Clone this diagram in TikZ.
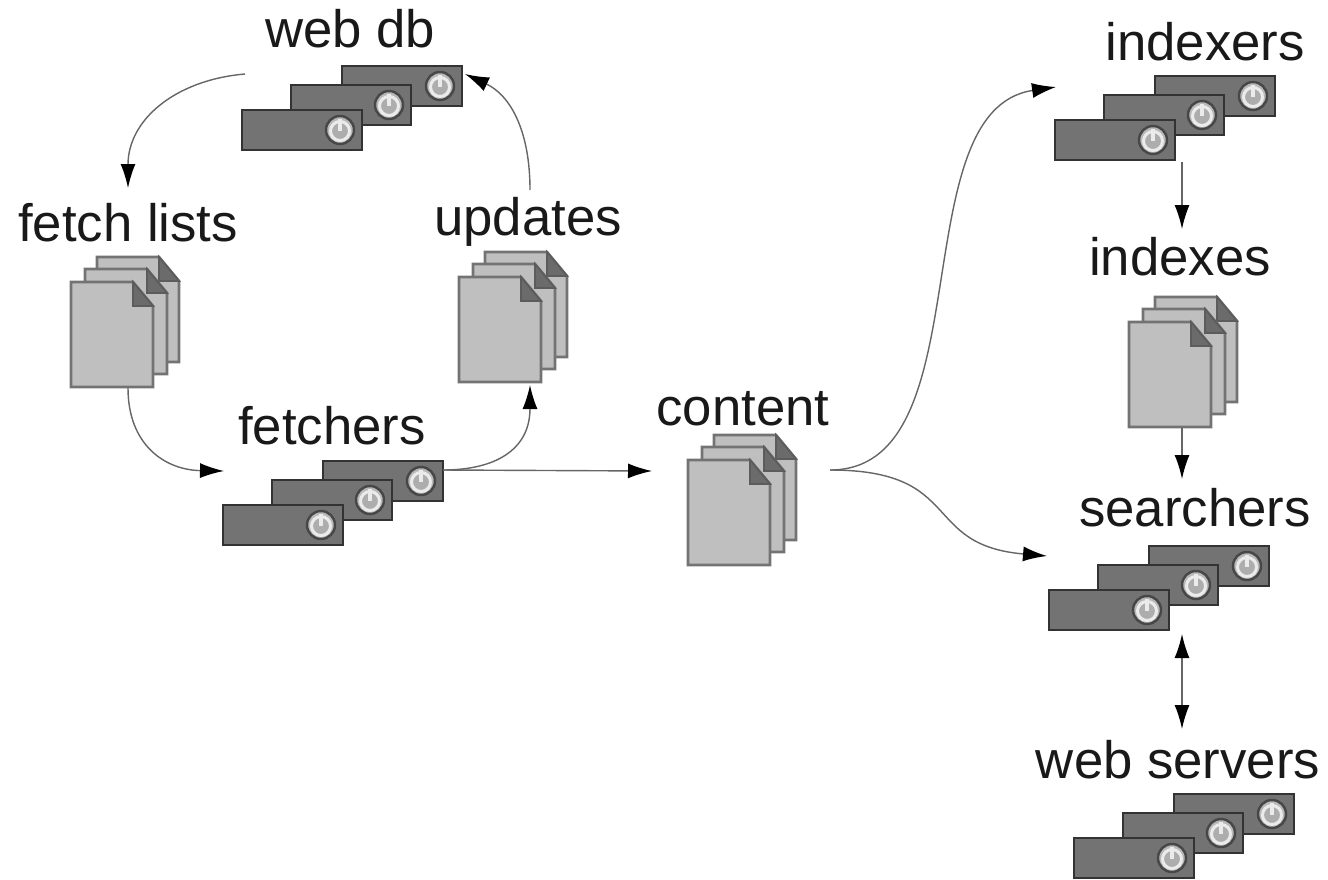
\documentclass[tikz,border=0pt]{standalone}
\usepackage{fontspec}
\setmainfont{Liberation Sans}
\usetikzlibrary{arrows.meta}
\definecolor{rackgray}{gray}{0.45}
\definecolor{rackedge}{gray}{0.2}
\definecolor{pagegray}{gray}{0.75}
\definecolor{pageedge}{gray}{0.45}
\definecolor{foldgray}{gray}{0.42}
\definecolor{wiregray}{gray}{0.4}
\tikzset{
  label/.style={font=\fontsize{30}{30}\selectfont, text=black!90, anchor=base, inner sep=0pt},
  rack/.style={draw=rackedge, line width=1.6pt, fill=rackgray},
  knob/.style={draw=rackedge!90, line width=1.4pt, fill=white!72!black, circle, minimum size=0.56cm, inner sep=0pt},
  knobring/.style={draw=white!92!black, line width=1.7pt, fill=white!68!black, circle, minimum size=0.38cm, inner sep=0pt},
  wire/.style={draw=wiregray, line width=0.8pt, -{Latex[length=0.48cm, width=0.3cm, color=black]}},
  page/.style={draw=pageedge, line width=1.5pt, fill=pagegray},
  fold/.style={draw=rackedge!80, line width=1pt, fill=foldgray},
}
% one rack unit, the origin is the upper left corner of the box
\newcommand{\rackunit}[2]{
  \draw[rack] (#1,#2) rectangle ++(120,40);
  \node[knob] at (#1+98,#2+20) {};
  \node[knobring] at (#1+98,#2+21) {};
  \draw[white!92!black, line width=1.8pt] (#1+98,#2+9) -- (#1+98,#2+21);
}
% three rack units in a row
\newcommand{\rackstack}[2]{
  \rackunit{#1+100}{#2-44}
  \rackunit{#1+49}{#2-25}
  \rackunit{#1}{#2}
}
% one page with its corner folded
\newcommand{\pageunit}[2]{
  \draw[page] (#1,#2) -- ++(62,0) -- ++(20,24) -- ++(0,81) -- ++(-82,0) -- cycle;
  \draw[fold] (#1+62,#2) -- ++(20,24) -- ++(-20,0) -- cycle;
}
\newcommand{\pagestack}[2]{
  \pageunit{#1+26}{#2-25}
  \pageunit{#1+14}{#2-13}
  \pageunit{#1}{#2}
}
\begin{document}
\begin{tikzpicture}[x=0.02cm, y=-0.02cm]
\useasboundingbox (0,0) rectangle (1328,879);
\rackstack{242}{110}
\rackstack{223}{505}
\rackstack{1055}{120}
\rackstack{1049}{590}
\rackstack{1074}{838}
\pagestack{71}{282}
\pagestack{459}{277}
\pagestack{688}{460}
\pagestack{1129}{322}
\node[label] (webdb) at (350,47) {web db};
\node[label] (fetchlists) at (128,241) {fetch lists};
\node[label] (updates) at (528,235) {updates};
\node[label] (fetchers) at (332,444) {fetchers};
\node[label] (content) at (743,425) {content};
\node[label] (indexers) at (1205,60) {indexers};
\node[label] (indexes) at (1180,275) {indexes};
\node[label] (searchers) at (1195,526) {searchers};
\node[label] (webservers) at (1178,778) {web servers};
\coordinate (dbout) at (245,74);
\coordinate (dbin) at (465,74);
\coordinate (listsin) at (128,188);
\coordinate (listsout) at (128,388);
\coordinate (updatesin) at (530,385);
\coordinate (updatesout) at (530,190);
\coordinate (fetchin) at (224,471);
\coordinate (fetchout) at (443,470);
\coordinate (contentin) at (652,471);
\coordinate (contentout) at (830,470);
\coordinate (indexersin) at (1056,87);
\coordinate (indexersout) at (1182,162);
\coordinate (indexesin) at (1182,229);
\coordinate (indexesout) at (1182,428);
\coordinate (searchersin) at (1047,556);
\coordinate (searcherstop) at (1182,479);
\coordinate (searchersout) at (1182,634);
\coordinate (serversin) at (1182,729);
\draw[wire] (dbout) .. controls (175,80) and (128,120) .. (listsin);
\draw[wire] (updatesout) .. controls (530,130) and (510,95) .. (dbin);
\draw[wire] (listsout) .. controls (128,445) and (165,470) .. (fetchin);
\draw[wire] (fetchout) .. controls (495,470) and (530,450) .. (updatesin);
\draw[wire] (fetchout) -- (contentin);
\draw[wire] (contentout) .. controls (985,470) and (900,110) .. (indexersin);
\draw[wire] (contentout) .. controls (965,470) and (920,545) .. (searchersin);
\draw[wire] (indexersout) -- (indexesin);
\draw[wire] (indexesout) -- (searcherstop);
\draw[wire, {Latex[length=0.48cm, width=0.3cm, color=black]}-{Latex[length=0.48cm, width=0.3cm, color=black]}] (searchersout) -- (serversin);
\end{tikzpicture}
\end{document}
